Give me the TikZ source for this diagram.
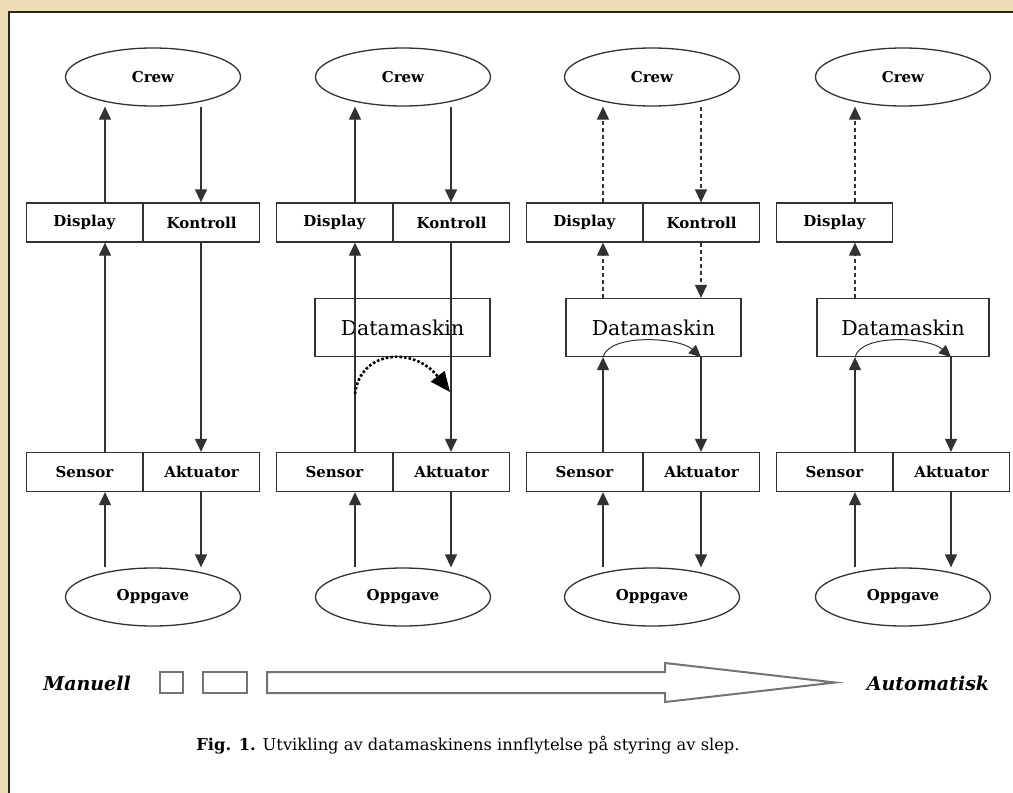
\documentclass[tikz,border=0pt]{standalone}
\usepackage{fontspec}
\setmainfont{DejaVu Serif}
\usetikzlibrary{arrows.meta,calc,shapes.geometric}

\definecolor{bgbeige}{RGB}{237,221,182}
\definecolor{inkgray}{RGB}{50,50,50}

\begin{document}
\begin{tikzpicture}[x=1pt,y=-1pt]  % coordinates are pixels of the 1013 x 793 sheet

    % Define some common styles
    \tikzset{
        cell/.style={draw=inkgray, line width=1.3pt, minimum width=116pt, minimum height=39pt, inner sep=0pt, font=\fontsize{15}{17}\selectfont\bfseries},
        comp/.style={draw=inkgray, line width=1.3pt, minimum width=175pt, minimum height=58pt, inner sep=0pt, font=\fontsize{20.5}{24}\selectfont},
        oval/.style={draw=inkgray, line width=1.3pt, ellipse, minimum width=175pt, minimum height=58pt, inner sep=0pt, font=\fontsize{15}{17}\selectfont\bfseries},
        sig/.style={draw=inkgray, line width=1.3pt, -{Triangle[length=13pt,width=12pt]}},
        sigdash/.style={sig, dash pattern=on 4pt off 3pt},
        selfarc/.style={draw=inkgray, line width=1pt, -{Triangle[length=12pt,width=11pt]}},
        bypass/.style={draw=black, line width=2.6pt, dotted, -{Triangle[length=20pt,width=17pt]}},
        scale label/.style={font=\fontsize{19}{22}\selectfont\bfseries\itshape}
    }

    % Sheet and frame
    \useasboundingbox (0,0) rectangle (1013,793);
    \fill[bgbeige] (0,0) rectangle (1013,793);
    \fill[white] (9,12) rectangle (1013,793);
    \draw[black!85, line width=2pt] (9,793) -- (9,12) -- (1013,12);

    % Column 1 - manual
    \node[oval] (crew1) at (153,77) {Crew};
    \node[cell, anchor=east] (disp1) at (143,222.5) {Display};
    \node[cell, anchor=west] (kont1) at (143,222.5) {Kontroll};
    \node[cell, anchor=east] (sens1) at (143,472) {Sensor};
    \node[cell, anchor=west] (aktu1) at (143,472) {Aktuator};
    \node[oval] (task1) at (153,597) {Oppgave};
    \coordinate (up1) at (105,0);
    \coordinate (dn1) at (201,0);
    \draw[sig] (up1 |- disp1.north) -- (up1 |- crew1.south);
    \draw[sig] (dn1 |- crew1.south) -- (dn1 |- kont1.north);
    \draw[sig] (up1 |- sens1.north) -- (up1 |- disp1.south);
    \draw[sig] (dn1 |- kont1.south) -- (dn1 |- aktu1.north);
    \draw[sig] (up1 |- task1.north) -- (up1 |- sens1.south);
    \draw[sig] (dn1 |- aktu1.south) -- (dn1 |- task1.north);

    % Column 2 - computer beside the loop
    \node[oval] (crew2) at (403,77) {Crew};
    \node[cell, anchor=east] (disp2) at (393,222.5) {Display};
    \node[cell, anchor=west] (kont2) at (393,222.5) {Kontroll};
    \node[comp] (dm2) at (402.5,327.5) {Datamaskin};
    \node[cell, anchor=east] (sens2) at (393,472) {Sensor};
    \node[cell, anchor=west] (aktu2) at (393,472) {Aktuator};
    \node[oval] (task2) at (403,597) {Oppgave};
    \coordinate (up2) at (355,0);
    \coordinate (dn2) at (451,0);
    \draw[sig] (up2 |- disp2.north) -- (up2 |- crew2.south);
    \draw[sig] (dn2 |- crew2.south) -- (dn2 |- kont2.north);
    \draw[sig] (up2 |- sens2.north) -- (up2 |- disp2.south);
    \draw[sig] (dn2 |- kont2.south) -- (dn2 |- aktu2.north);
    \draw[sig] (up2 |- task2.north) -- (up2 |- sens2.south);
    \draw[sig] (dn2 |- aktu2.south) -- (dn2 |- task2.north);
    \coordinate (tap2) at (355,394);
    \coordinate (feed2) at (450,392);
    \draw[bypass] (tap2) .. controls (360,350) and (414,346) .. (feed2);

    % Column 3 - computer in the loop
    \node[oval] (crew3) at (652,77) {Crew};
    \node[cell, anchor=east] (disp3) at (643,222.5) {Display};
    \node[cell, anchor=west] (kont3) at (643,222.5) {Kontroll};
    \node[comp] (dm3) at (653.5,327.5) {Datamaskin};
    \node[cell, anchor=east] (sens3) at (643,472) {Sensor};
    \node[cell, anchor=west] (aktu3) at (643,472) {Aktuator};
    \node[oval] (task3) at (652,597) {Oppgave};
    \coordinate (up3) at (603,0);
    \coordinate (dn3) at (701,0);
    \draw[sigdash] (up3 |- disp3.north) -- (up3 |- crew3.south);
    \draw[sigdash] (dn3 |- crew3.south) -- (dn3 |- kont3.north);
    \draw[sigdash] (up3 |- dm3.north) -- (up3 |- disp3.south);
    \draw[sigdash] (dn3 |- kont3.south) -- (dn3 |- dm3.north);
    \draw[sig] (up3 |- sens3.north) -- (up3 |- dm3.south);
    \draw[sig] (dn3 |- dm3.south) -- (dn3 |- aktu3.north);
    \draw[selfarc] (up3 |- dm3.south) .. controls +(6,-24) and +(-22,-20) .. (dn3 |- dm3.south);
    \draw[sig] (up3 |- task3.north) -- (up3 |- sens3.south);
    \draw[sig] (dn3 |- aktu3.south) -- (dn3 |- task3.north);

    % Column 4 - automatic
    \node[oval] (crew4) at (903,77) {Crew};
    \node[cell, anchor=east] (disp4) at (893,222.5) {Display};
    \node[comp, minimum width=172pt] (dm4) at (903,327.5) {Datamaskin};
    \node[cell, anchor=east] (sens4) at (893,472) {Sensor};
    \node[cell, anchor=west] (aktu4) at (893,472) {Aktuator};
    \node[oval] (task4) at (903,597) {Oppgave};
    \coordinate (up4) at (855,0);
    \coordinate (dn4) at (951,0);
    \draw[sigdash] (up4 |- disp4.north) -- (up4 |- crew4.south);
    \draw[sigdash] (up4 |- dm4.north) -- (up4 |- disp4.south);
    \draw[sig] (up4 |- sens4.north) -- (up4 |- dm4.south);
    \draw[sig] (dn4 |- dm4.south) -- (dn4 |- aktu4.north);
    \draw[selfarc] (up4 |- dm4.south) .. controls +(6,-24) and +(-22,-20) .. (dn4 |- dm4.south);
    \draw[sig] (up4 |- task4.north) -- (up4 |- sens4.south);
    \draw[sig] (dn4 |- aktu4.south) -- (dn4 |- task4.north);

    % Scale from manual to automatic
    \node[scale label] (manu) at (87,683) {Manuell};
    \node[draw=black!55, line width=2pt, minimum width=23pt, minimum height=21pt] (sq1) at (171.5,682.5) {};
    \node[draw=black!55, line width=2pt, minimum width=44pt, minimum height=21pt] (sq2) at (225,682.5) {};
    \draw[black!55, line width=2pt] (267,672) -- (665,672) -- (665,663) -- (835,682.5) -- (665,702) -- (665,693) -- (267,693) -- cycle;
    \node[scale label] (auto) at (928,683) {Automatisk};

    % Caption
    \node[font=\fontsize{16.3}{19}\selectfont] (cap) at (468,745) {\textbf{Fig. 1.} Utvikling av datamaskinens innflytelse på styring av slep.};

\end{tikzpicture}
\end{document}
